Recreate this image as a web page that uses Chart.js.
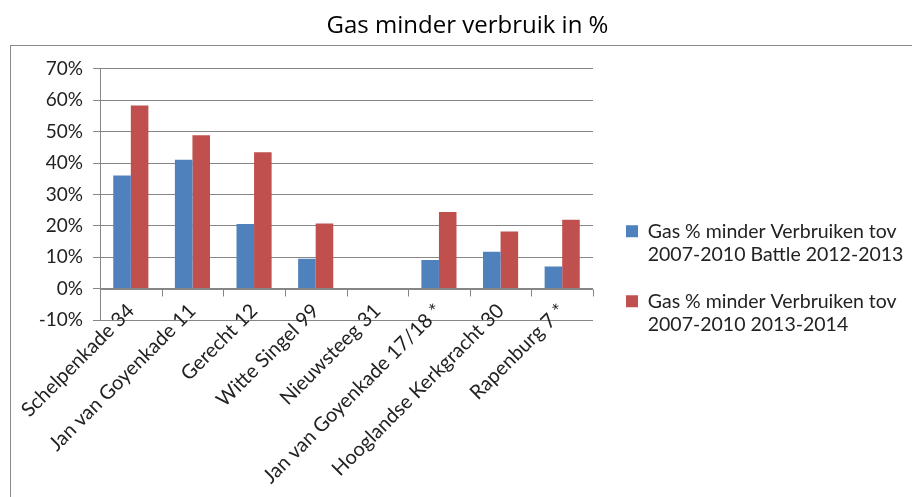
<!DOCTYPE html>
<html>
<head>
<meta charset="utf-8">
<script src="https://cdn.jsdelivr.net/npm/chart.js@4.4.0/dist/chart.umd.min.js"></script>
<style>
  html, body { margin: 0; padding: 0; background: #fff; }
  #wrap { position: relative; width: 912px; height: 497px; overflow: hidden; }
  #frame { position: absolute; left: 10px; top: 45px; width: 1000px; height: 1000px; border: 1px solid #8a8a8a; }
  canvas { position: absolute; left: 0; top: 0; }
</style>
</head>
<body>
<div id="wrap">
  <div id="frame"></div>
  <canvas id="gasChart" width="912" height="497"></canvas>
</div>
<script>
// data
const addresses = [
  "Schelpenkade 34",
  "Jan van Goyenkade 11",
  "Gerecht 12",
  "Witte Singel 99",
  "Nieuwsteeg 31",
  "Jan van Goyenkade 17/18 *",
  "Hooglandse Kerkgracht 30",
  "Rapenburg 7 *"
];
const battle2012_2013 = [36, 41, 20.6, 9.5, null, 9.1, 11.7, 7.0];
const period2013_2014 = [58.3, 48.8, 43.4, 20.7, null, 24.4, 18.2, 21.9];
const seriesNames = [
  ["Gas % minder Verbruiken tov", "2007-2010 Battle 2012-2013"],
  ["Gas % minder Verbruiken tov", "2007-2010 2013-2014"]
];
const yTicks = [-10, 0, 10, 20, 30, 40, 50, 60, 70];

const FONT = "Lato";

// small tick marks on the zero line between categories (Excel style)
const zeroTicks = {
  id: "zeroTicks",
  beforeDraw(chart) {
    // excel lets the rotated labels poke above the bottom gridline, so no clipping
    chart.scales.x._computeLabelArea = () => null;
  },
  afterDatasetsDraw(chart) {
    const x = chart.scales.x, y = chart.scales.y;
    const y0 = Math.round(y.getPixelForValue(0)) + 0.5;
    const ctx = chart.ctx;
    ctx.save();
    ctx.strokeStyle = "#868686";
    ctx.lineWidth = 1;
    ctx.beginPath();
    ctx.moveTo(x.left, y0);
    ctx.lineTo(x.right, y0);
    for (let i = 0; i <= addresses.length; i++) {
      const px = Math.round(x.left + (x.right - x.left) * i / addresses.length) + 0.5;
      ctx.moveTo(px, y0);
      ctx.lineTo(px, y0 + 7);
    }
    ctx.stroke();
    ctx.restore();
  }
};

// fixed legend width + nudge it, so the plot and legend sit like in the excel chart
const legendPlacement = {
  id: "legendPlacement",
  beforeLayout(chart) {
    const lg = chart.legend;
    if (lg && !lg._wrapped) {
      const fit = lg.fit.bind(lg);
      lg.fit = function () { fit(); this.width = 319; };
      lg._wrapped = true;
    }
  },
  afterLayout(chart) {
    const lg = chart.legend;
    const dx = 9, dy = 31;
    lg.left += dx; lg.right += dx;
    lg.top += dy; lg.bottom += dy;
  }
};

new Chart(document.getElementById("gasChart"), {
  type: "bar",
  data: {
    labels: addresses,
    datasets: [
      {
        label: seriesNames[0],
        data: battle2012_2013,
        backgroundColor: "#4F81BD",
        borderWidth: 0
      },
      {
        label: seriesNames[1],
        data: period2013_2014,
        backgroundColor: "#C0504D",
        borderWidth: 0
      }
    ]
  },
  plugins: [zeroTicks, legendPlacement],
  options: {
    responsive: false,
    animation: false,
    layout: { padding: { left: 23, right: 0, top: 0, bottom: 0 } },
    datasets: {
      bar: { categoryPercentage: 0.57, barPercentage: 1 }
    },
    plugins: {
      title: {
        display: true,
        text: "Gas minder verbruik in %",
        color: "#000",
        font: { family: "Open Sans", size: 24, weight: "normal" },
        padding: { top: 12, bottom: 28 }
      },
      legend: {
        position: "right",
        labels: {
          color: "#222",
          font: { family: FONT, size: 19.5, lineHeight: 1.18 },
          boxWidth: 12,
          boxHeight: 12,
          padding: 24
        }
      },
      tooltip: { enabled: false }
    },
    scales: {
      x: {
        grid: { display: false, drawTicks: false },
        border: { display: false },
        ticks: {
          color: "#222",
          font: { family: FONT, size: 20 },
          maxRotation: 45,
          minRotation: 45,
          autoSkip: false,
          padding: -21
        },
        afterFit(scale) { scale.height = 177; }
      },
      y: {
        min: -10,
        max: 70,
        afterBuildTicks(scale) {
          scale.ticks = yTicks.map(v => ({ value: v }));
        },
        grid: { color: "#868686", tickLength: 7 },
        border: { color: "#868686" },
        ticks: {
          color: "#222",
          font: { family: FONT, size: 19 },
          padding: 10,
          callback: v => v + "%"
        },
        afterFit(scale) { scale.width = 77; }
      }
    }
  }
});
</script>
</body>
</html>
